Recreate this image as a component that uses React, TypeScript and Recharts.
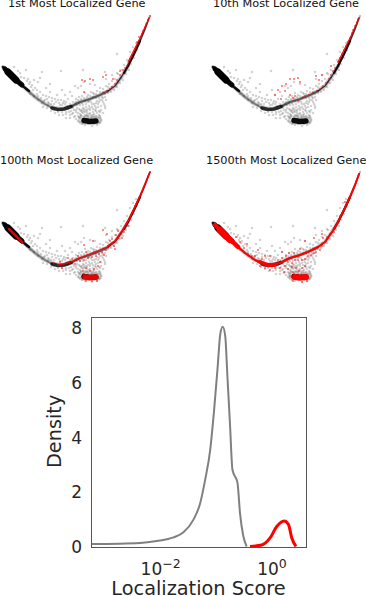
import React from 'react';
import { ScatterChart, Scatter, LineChart, Line, XAxis, YAxis } from 'recharts';

type Pt = { x: number; y: number };
const pts = (raw: number[][]): Pt[] => raw.map(([x, y]) => ({ x, y }));

// embedding points (same cells in each panel)
const lowerCurve = pts([[3,67],[10,74],[17,81],[25,88],[35,97],[45,104],[55,108],[62,109],[70,107],[80,102],[90,99],[100,95],[108,91],[115,86],[122,76],[128,66]]);
const upperCurve = pts([[128,66],[134,54],[140,41],[145,29],[150,16]]);
const leftSlope = pts([[25,88],[35,97],[45,104],[52,108]]);
const blobThin = pts([[3,67],[10,74],[17,81],[24,87],[29,91]]);
const blobMid = pts([[5,69],[10,74],[16,80],[22,85]]);
const blobCore = pts([[8,72],[12,76],[16,80]]);
const valleyCore = pts([[52,108],[58,109.5],[64,109],[71,106.5]]);
const valleyArm = pts([[71,106.5],[80,102],[90,99],[100,95],[108,91]]);
const clusterHalo = pts([[82,120],[90,120],[98,120]]);
const clusterCore = pts([[84,120.5],[90,121.5],[96,121]]);
const rightArm = pts([[108,91],[115,86],[122,76],[128,66],[134,54],[140,41],[145,29],[149,18]]);
const armMid = pts([[124,73],[128,66],[134,54],[140,41]]);

const cloud = pts([
  [20,73],[24,78],[27,81],[29,84],[31,87],[33,90],[27,90],[30,94],[34,96],[37,94],[38,100],[41,98],[44,101],[47,99],[49,103],[52,101],[54,104],[56,102],[43,107],[47,108],[51,111],[55,113],[59,115],[62,112],[66,114],[69,112],[72,114],[75,116],[78,113],[81,115],[84,111],[87,113],[90,110],[93,112],[96,108],[99,111],[101,106],[98,104],[95,106],[92,104],[89,106],[86,107],[83,108],[80,110],[77,108],[74,110],[71,111],[68,109],[65,104],[62,105],[59,103],[73,102],[76,99],[79,97],[82,96],[85,93],[88,95],[91,92],[94,94],[97,91],[100,88],[103,89],[106,86],[109,84],[112,81],[115,79],[118,74],[121,70],[124,65],[127,60],[130,52],[133,47],[136,43],[118,82],[121,78],[125,72],[129,63],[133,55],[110,90],[112,87],[105,97],[102,100],[104,104],[100,116],[103,113],[105,108],[98,118],[80,118],[78,121],[82,124],[85,125],[92,126],[97,125],[100,122],[76,119],[74,117],[70,118],[66,118],[94,117],[88,116],[42,72],[61,71],[83,70],[117,54],[50,84],[38,82],[62,90],[75,86],[70,92],[65,95],[57,95],[50,92],[46,88],[84,82],[81,86],[78,88],[90,84],[95,85],[72,96],[68,99],[40,78],[34,80],[26,70],[21,77],[18,71],[14,67],[106,79],[112,75],[117,73],[105,106],[105,72],
  [82,112],[85,115],[88,118],[91,115],[94,114],[97,113],[100,112],[84,117],[87,119],[92,117],[96,116],[78,116],[80,114],[76,112],[73,108],[70,104],[66,102],[64,101],[61,100],[58,100],[55,99],[52,98],[49,97],[46,96],[43,95],[40,92],[37,90],[35,88],[32,85],[30,82],[28,79],[45,100],[48,102],[51,104],[60,105],[63,103],[67,106],[75,104],[78,100],[81,99],[84,98],[87,97],[90,96],[93,97],[96,98],[99,98],[102,97],[105,94],[108,93],[111,92],[114,90],[117,87],[120,83],[123,80],[126,74],[129,70],[131,64],[134,58],[137,50],[108,87],[103,92],[100,92],[96,94],[93,93],[89,101],[86,104],[83,105],[80,105],[77,105],[92,107],[95,110],[90,108],[86,110],[83,113],[81,111],[79,117],[83,119],[95,120],[99,115],[101,110],[103,102],[106,100],[73,113],[70,115],[66,112],[63,115],[58,112],[54,110],[48,105],[42,103],[38,96],
  [84,109],[87,111],[90,113],[93,109],[96,111],[98,107],[88,109],[85,112],[82,110],[79,109],[76,110],[73,106],[94,104],[91,102],[88,102],[85,101],[82,103],[79,103],[76,102],[97,101],[100,100],[103,98],[96,103],[99,102],[81,116],[86,116],[91,118],[96,118],[100,118],[80,122],[83,123],[88,124],[94,124],[99,123],[101,120],[87,115],[89,114],[93,115]
]);

const redOneArm = pts([[128,62],[134,50],[140,38],[145,27],[149,18]]);
const redOne = pts([[150,16],[148,20],[146,24],[145,27],[143,31],[142,34],[141,37],[139,41],[138,44],[136,48],[135,50],[134,53],[132,57],[130,60],[128,64],[139,37],[137,42],[127,66],[125,68],[123,70],[120,75],[117,80],[115,84],[112,87],[110,89],[107,91],[104,93],[120,71],[113,79],[106,75],[103,77],[93,80],[90,79],[85,81],[82,80],[84,92]]);
const redTwo = pts([[148,19],[147,22],[145,26],[143,30],[142,33],[140,38],[138,42],[136,46],[134,50],[132,54],[130,58],[128,62],[125,68],[123,71],[121,75],[119,79],[116,83],[113,86],[110,89],[107,91],[103,93],[99,95],[95,96],[92,98],[88,100],[85,96],[83,98],[80,95],[75,91],[65,95],[68,90],[72,86],[76,84],[80,79],[84,79],[88,78],[90,82],[71,99],[112,75],[109,80],[106,76],[121,66]]);
const redThreeArm = pts([[108,90],[115,85],[122,75],[128,65],[134,53],[140,40],[145,28],[150,16]]);
const redThreeBlob = pts([[9,73],[14,78],[18,82],[22,86]]);
const redThreeValley = pts([[58,109],[64,108],[71,106],[80,102],[90,98],[100,94],[108,91]]);
const redThreeCluster = pts([[85,121],[90,121.5],[96,121]]);
const redThreeDots = pts([[75,108],[80,105],[84,104],[88,102],[92,101],[96,100],[99,98],[102,96],[104,99],[106,94],[94,96],[86,96],[78,100],[72,103],[68,102],[60,106],[54,107],[83,115],[86,112],[90,115],[94,113],[98,110],[100,106],[83,118],[86,125],[92,125],[97,125],[116,79],[118,82],[122,82],[110,85],[114,90],[112,83],[124,76],[125,72],[130,62],[132,57],[128,70],[115,93],[107,78],[103,74],[118,75],[135,50],[84,89],[93,85],[62,112]]);
const redFourBlob = pts([[5,69],[10,74],[16,80],[22,85],[28,91]]);
const redFourBlobCore = pts([[10,74],[15,79],[20,84]]);
const redFourArm = pts([[28,91],[35,97],[45,104],[55,108],[62,109],[70,107],[80,102],[90,99],[100,95],[108,91],[115,86],[122,76],[128,66],[134,54],[140,41],[145,29],[149,18]]);
const redFourValley = pts([[50,106],[58,109],[66,108.5]]);
const redFourDots = pts([[30,86],[34,92],[38,98],[42,100],[45,100],[48,106],[50,110],[55,112],[60,114],[65,112],[70,112],[75,110],[78,106],[82,107],[85,104],[88,104],[92,104],[95,103],[98,100],[101,99],[104,97],[106,96],[110,94],[112,90],[113,82],[117,81],[120,78],[74,116],[78,113],[82,111],[80,120],[83,116],[86,112],[89,115],[92,112],[95,110],[83,125],[92,126],[97,125],[68,104],[72,102],[76,100],[79,97],[84,97],[90,93],[60,100],[55,100],[52,103],[72,96],[48,94],[124,76],[130,60],[135,46],[37,88],[26,81],[95,85],[104,82],[112,78]]);

// density curve, x as log10(score)
const greyLog = [-3.25,-2.37,-2.07,-1.77,-1.59,-1.41,-1.29,-1.2,-1.11,-1.04,-0.975,-0.93,-0.885,-0.84,-0.8,-0.755,-0.71,-0.62,-0.575,-0.515,-0.455];
const greyDensity = [0.11,0.15,0.22,0.35,0.54,1.0,1.6,2.46,3.55,5.0,6.6,7.76,8.04,7.7,6.2,4.5,2.82,2.34,1.24,0.39,0.02];
const redLog = [-0.395,-0.185,-0.035,0.085,0.22,0.295,0.355,0.43];
const redDensity = [0.02,0.07,0.33,0.75,0.95,0.82,0.33,0.02];
const xTicks = [-2, 0];
const yTicks = [0, 2, 4, 6, 8];

const greyRows = greyLog.map((x, i) => ({ x, y: greyDensity[i] }));
const redRows = redLog.map((x, i) => ({ x, y: redDensity[i] }));

const textColor = '#262626';
const font = '"DejaVu Sans", sans-serif';

const noDot = () => <g />;

function band(data: Pt[], color: string, width: number, opacity: number, key: string) {
  return (
    <Scatter
      key={key}
      data={data}
      line={{ stroke: color, strokeWidth: width, strokeOpacity: opacity, strokeLinecap: 'round', strokeLinejoin: 'round' }}
      lineType="joint"
      shape={noDot}
      isAnimationActive={false}
    />
  );
}

function dots(data: Pt[], color: string, r: number, opacity: number, key: string) {
  return (
    <Scatter
      key={key}
      data={data}
      shape={(p: any) => <circle cx={p.cx} cy={p.cy} r={r} fill={color} fillOpacity={opacity} />}
      isAnimationActive={false}
    />
  );
}

const baseLayers = [
  dots(cloud, '#000', 1.3, 0.17, 'cloud'),
  band(lowerCurve, '#000', 4, 0.2, 'wide'),
  band(upperCurve, '#000', 2, 0.3, 'wideTop'),
  band(leftSlope, '#000', 2, 0.4, 'slope'),
  band(blobThin, '#000', 2.5, 0.9, 'blobThin'),
  band(blobMid, '#000', 5, 0.95, 'blobMid'),
  band(blobCore, '#000', 7, 1, 'blobCore'),
  band(valleyCore, '#000', 3.6, 0.8, 'valley'),
  band(valleyArm, '#000', 2, 0.55, 'valleyArm'),
  band(clusterHalo, '#000', 9, 0.14, 'halo'),
  band(clusterCore, '#000', 5.5, 0.95, 'cluster'),
  band(rightArm, '#000', 1.4, 0.75, 'arm'),
  band(armMid, '#000', 2.4, 0.8, 'armMid'),
];

const redLayers = [
  [band(redOneArm, '#f00', 1.1, 1, 'r1a'), dots(redOne, '#f00', 0.8, 1, 'r1')],
  [band(redOneArm, '#f00', 1.1, 1, 'r2a'), dots(redTwo, '#f00', 0.8, 1, 'r2')],
  [
    band(redThreeBlob, '#f00', 2.5, 0.85, 'r3b'),
    band(redThreeValley, '#f00', 1.6, 0.8, 'r3v'),
    band(redThreeCluster, '#f00', 5.5, 0.9, 'r3c'),
    band(redThreeArm, '#f00', 1.8, 1, 'r3a'),
    dots(redThreeDots, '#f00', 0.8, 1, 'r3d'),
  ],
  [
    band(redFourBlob, '#f00', 4.5, 1, 'r4b'),
    band(redFourBlobCore, '#f00', 6.5, 1, 'r4bc'),
    band(redFourArm, '#f00', 2, 1, 'r4a'),
    band(redFourValley, '#f00', 4, 1, 'r4v'),
    band(redThreeCluster, '#f00', 6, 1, 'r4c'),
    dots(redFourDots, '#f00', 0.8, 1, 'r4d'),
  ],
];

const panels = [
  { title: '1st Most Localized Gene', left: 0, top: 0, titleLeft: 8, titleTop: -3 },
  { title: '10th Most Localized Gene', left: 210, top: 0, titleLeft: 213, titleTop: -3 },
  { title: '100th Most Localized Gene', left: 0, top: 156, titleLeft: 0, titleTop: 154 },
  { title: '1500th Most Localized Gene', left: 210, top: 156, titleLeft: 206, titleTop: 154 },
];

function Panel({ index }: { index: number }) {
  const p = panels[index];
  return (
    <>
      <div style={{ position: 'absolute', left: p.titleLeft, top: p.titleTop, fontFamily: font, fontSize: 11.3, color: '#111', whiteSpace: 'nowrap' }}>
        {p.title}
      </div>
      <div style={{ position: 'absolute', left: p.left, top: p.top, filter: 'blur(0.35px)' }}>
        <ScatterChart width={156} height={140} margin={{ top: 0, right: 0, bottom: 0, left: 0 }}>
          <XAxis type="number" dataKey="x" domain={[0, 156]} hide />
          <YAxis type="number" dataKey="y" domain={[0, 140]} reversed hide />
          {baseLayers}
          {redLayers[index]}
        </ScatterChart>
      </div>
    </>
  );
}

function LogTick({ x, y, payload }: any) {
  return (
    <text x={x} y={y + 20} textAnchor="middle" fill={textColor} fontSize={17} fontFamily={font}>
      10
      <tspan dy={-7} fontSize={12.5}>{payload.value === 0 ? '0' : '\u2212' + Math.abs(payload.value)}</tspan>
    </text>
  );
}

export default function App() {
  return (
    <div style={{ position: 'absolute', left: 0, top: 0, width: 366, height: 596, overflow: 'hidden', background: '#fff' }}>
      {panels.map((_, i) => <Panel key={i} index={i} />)}
      <div style={{ position: 'absolute', left: 0, top: 300 }}>
        <LineChart width={366} height={296} margin={{ top: 17, right: 60, bottom: 0, left: 0 }}>
          <XAxis
            type="number"
            dataKey="x"
            domain={[-3.25, 0.61]}
            ticks={xTicks}
            tick={<LogTick />}
            tickLine={false}
            axisLine={false}
            allowDataOverflow
            height={49}
            label={{ value: 'Localization Score', position: 'insideBottom', offset: 1, fill: textColor, fontSize: 19.3, fontFamily: font }}
          />
          <YAxis
            type="number"
            domain={[0, 8.4]}
            ticks={yTicks}
            tickLine={false}
            axisLine={false}
            width={91}
            allowDataOverflow
            tick={{ fill: textColor, fontSize: 17, fontFamily: font }}
            tickMargin={3}
            label={{ value: 'Density', angle: -90, position: 'insideLeft', offset: 54, dy: 36, fill: textColor, fontSize: 19.3, fontFamily: font }}
          />
          <Line data={greyRows} dataKey="y" stroke="#808080" strokeWidth={2} dot={false} type="monotone" isAnimationActive={false} />
          <Line data={redRows} dataKey="y" stroke="#ff0000" strokeWidth={3} dot={false} type="monotone" isAnimationActive={false} />
        </LineChart>
      </div>
      <div style={{ position: 'absolute', left: 91, top: 317, width: 216, height: 231, boxSizing: 'border-box', border: '1px solid #555' }} />
    </div>
  );
}
